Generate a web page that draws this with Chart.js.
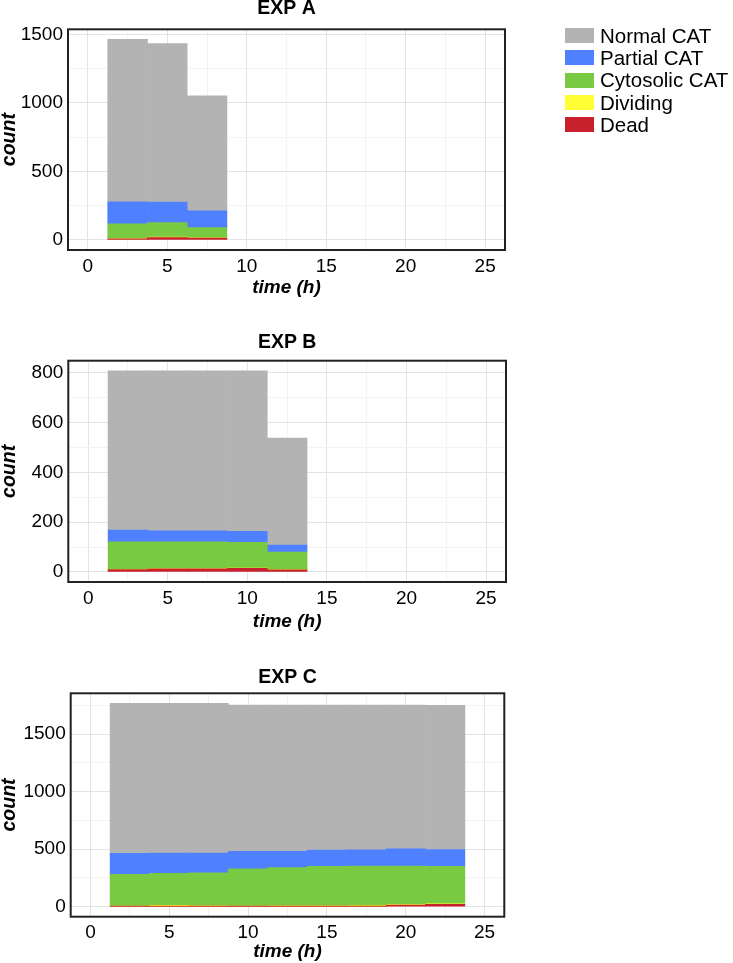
<!DOCTYPE html>
<html>
<head>
<meta charset="utf-8">
<script src="https://cdn.jsdelivr.net/npm/chart.js@4.4.0/dist/chart.umd.min.js"></script>
<style>
  body { margin: 0; background: #fff; width: 733px; height: 963px; position: relative; overflow: hidden; font-family: "Liberation Sans", Arial, sans-serif; }
  .panel { position: absolute; left: 0; }
  #legend { position: absolute; left: 565px; top: 24.5px; font-size: 20.5px; color: #000; }
  .row { display: flex; align-items: center; height: 22.3px; }
  .sw { width: 29px; height: 15px; margin-right: 6px; }
</style>
</head>
<body>
<canvas id="chartA" class="panel" width="572" height="300" style="top:0px"></canvas>
<canvas id="chartB" class="panel" width="572" height="301" style="top:333px"></canvas>
<canvas id="chartC" class="panel" width="572" height="295" style="top:668px"></canvas>
<div id="legend"></div>
<script>
// series, bottom of the stack first
const seriesNames = ["Dead", "Dividing", "Cytosolic CAT", "Partial CAT", "Normal CAT"];
const seriesColors = ["#c9202e", "#ffff33", "#7ac943", "#4f80ff", "#b3b3b3"];

const xTicks = [0, 5, 10, 15, 20, 25];

// EXP A
const timeA = [2.5, 5, 7.5];
const deadA = [8, 18, 14];
const dividingA = [2, 3, 2];
const cytosolicA = [108, 105, 74];
const partialA = [161, 150, 123];
const normalA = [1185, 1157, 839];
const yTicksA = [0, 500, 1000, 1500];

// EXP B
const timeB = [2.5, 5, 7.5, 10, 12.5];
const deadB = [9, 13, 13, 15, 8];
const dividingB = [1, 1, 1, 1, 1];
const cytosolicB = [111, 107, 107, 103, 71];
const partialB = [47, 44, 44, 44, 28];
const normalB = [641, 644, 644, 646, 430];
const yTicksB = [0, 200, 400, 600, 800];

// EXP C
const timeC = [2.5, 5, 7.5, 10, 12.5, 15, 17.5, 20, 22.5];
const deadC = [1, 1, 1, 1, 1, 2, 2, 12, 20];
const dividingC = [4, 9, 6, 3, 5, 4, 6, 5, 3];
const cytosolicC = [275, 278, 287, 325, 332, 344, 344, 335, 327];
const partialC = [183, 178, 172, 152, 143, 142, 142, 149, 146];
const normalC = [1303, 1300, 1300, 1270, 1270, 1259, 1257, 1250, 1254];
const yTicksC = [0, 500, 1000, 1500];

Chart.defaults.font.family = '"Liberation Sans", Arial, sans-serif';
Chart.defaults.color = "#000";

// legend (top to bottom = top of stack first)
let legendHtml = "";
for (let i = seriesNames.length - 1; i >= 0; i--) {
    legendHtml += `<div class="row"><div class="sw" style="background:${seriesColors[i]}"></div>${seriesNames[i]}</div>`;
}
document.querySelector("#legend").innerHTML = legendHtml;

const framePlugin = {
    id: "frame",
    afterDraw(chart) {
        const a = chart.chartArea;
        const ctx = chart.ctx;
        ctx.save();
        ctx.strokeStyle = "#222";
        ctx.lineWidth = 2;
        ctx.strokeRect(a.left, a.top, a.right - a.left, a.bottom - a.top);
        ctx.fillStyle = "#000";
        ctx.font = 'bold 19.5px "Liberation Sans", Arial, sans-serif';
        ctx.textAlign = "center";
        ctx.textBaseline = "middle";
        ctx.fillText(chart.options.panelTitle, (a.left + a.right) / 2, chart.options.panelTitleY);
        ctx.restore();
    }
};

function renderPanel(id, title, time, seriesList, yTicks, lay) {
    const datasets = seriesList.map((vals, k) => ({
        label: seriesNames[k],
        backgroundColor: seriesColors[k],
        borderWidth: 0,
        barPercentage: 1,
        categoryPercentage: 1,
        data: time.map((t, i) => ({ x: t, y: vals[i] }))
    }));
    const totals = time.map((t, i) => seriesList.reduce((s, v) => s + v[i], 0));
    const top = Math.max(...totals);
    const yStep = yTicks[1] - yTicks[0];
    const xStep = xTicks[1] - xTicks[0];
    const yMinor = [];
    for (let v = 0; v <= top * 1.05; v += yStep / 2) yMinor.push(v);
    const xMinor = [];
    for (let v = 0; v <= xTicks[xTicks.length - 1]; v += xStep / 2) xMinor.push(v);

    new Chart(document.querySelector(id), {
        type: "bar",
        data: { datasets },
        plugins: [framePlugin],
        options: {
            panelTitle: title,
            panelTitleY: lay.titleY,
            responsive: false,
            animation: false,
            layout: { padding: { top: lay.padTop, right: lay.padRight, left: 0, bottom: 0 } },
            plugins: { legend: { display: false }, tooltip: { enabled: false } },
            scales: {
                x: {
                    type: "linear",
                    stacked: true,
                    offset: false,
                    min: -0.05 * xTicks[xTicks.length - 1],
                    max: 1.05 * xTicks[xTicks.length - 1],
                    afterBuildTicks: (axis) => { axis.ticks = xMinor.map(v => ({ value: v })); },
                    afterFit: (scale) => { scale.height = lay.xHeight; },
                    ticks: {
                        autoSkip: false, maxRotation: 0, padding: 5,
                        font: { size: 19 },
                        callback: (v) => xTicks.includes(v) ? String(v) : ""
                    },
                    grid: {
                        offset: false,
                        drawTicks: false,
                        color: (c) => (c.tick && xTicks.includes(c.tick.value)) ? "#e4e4e4" : "#f3f3f3"
                    },
                    border: { display: false },
                    title: {
                        display: true, text: "time (h)",
                        font: { size: 19, weight: "bold", style: "italic", lineHeight: 1.2 },
                        padding: { top: 0, bottom: lay.xTitlePad }
                    }
                },
                y: {
                    stacked: true,
                    min: -0.05 * top,
                    max: 1.05 * top,
                    afterBuildTicks: (axis) => { axis.ticks = yMinor.map(v => ({ value: v })); },
                    afterFit: (scale) => { scale.width = lay.yWidth; },
                    ticks: {
                        padding: 5,
                        font: { size: 19 },
                        callback: (v) => yTicks.includes(v) ? String(v) : ""
                    },
                    grid: {
                        drawTicks: false,
                        color: (c) => (c.tick && yTicks.includes(c.tick.value)) ? "#e4e4e4" : "#f3f3f3"
                    },
                    border: { display: false },
                    title: {
                        display: true, text: "count",
                        font: { size: 19.5, weight: "bold", style: "italic", lineHeight: 0.95 },
                        padding: { top: 0, bottom: 0 }
                    }
                }
            }
        }
    });
}

renderPanel("#chartA", "EXP A", timeA, [deadA, dividingA, cytosolicA, partialA, normalA], yTicksA,
    { titleY: 9, padTop: 29.3, padRight: 67, xHeight: 50, yWidth: 68, xTitlePad: 0.6 });
renderPanel("#chartB", "EXP B", timeB, [deadB, dividingB, cytosolicB, partialB, normalB], yTicksB,
    { titleY: 9.5, padTop: 27.7, padRight: 66, xHeight: 52, yWidth: 68.3, xTitlePad: 0.9 });
renderPanel("#chartC", "EXP C", timeC, [deadC, dividingC, cytosolicC, partialC, normalC], yTicksC,
    { titleY: 9.2, padTop: 25.3, padRight: 67.7, xHeight: 46.3, yWidth: 70.7, xTitlePad: 0 });
</script>
</body>
</html>
